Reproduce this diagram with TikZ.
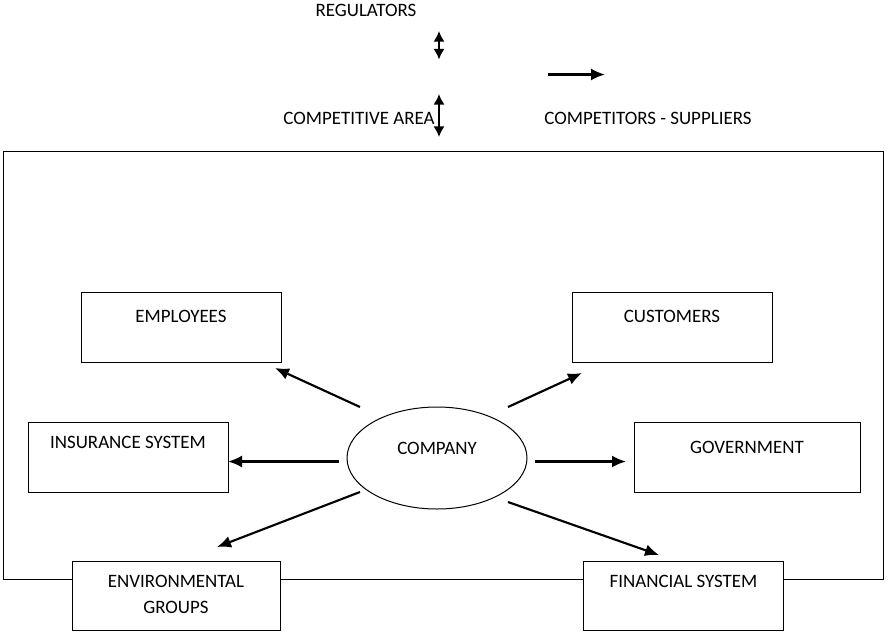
\documentclass[tikz,border=0pt]{standalone}
\usepackage{fontspec}
\setmainfont{Carlito}
\usetikzlibrary{arrows.meta,shapes.geometric}
\begin{document}
\begin{tikzpicture}[x=0.75pt,y=-0.75pt,
  txt/.style={font=\fontsize{14.2}{17}\selectfont, inner sep=0pt, anchor=base},
  box/.style={txt, draw, fill=white, line width=0.75pt, minimum width=150pt, minimum height=0pt},
  arr/.style={line width=1.6pt, -{Latex[length=10.5pt,width=9pt]}},
  darr/.style={line width=1.5pt, {Latex[length=8pt,width=8.5pt]}-{Latex[length=8pt,width=8.5pt]}},
  frame/.style={line width=0.75pt}]
\useasboundingbox (0,0) rectangle (889,636);
% frame
\draw[frame] (3.5,151) rectangle (883.5,579);
% top legend
\node[txt] (reg) at (366,16) {REGULATORS};
\node[txt] (comparea) at (359,124) {COMPETITIVE AREA};
\node[txt] (compsup) at (648,124) {COMPETITORS - SUPPLIERS};
\coordinate (d1a) at (439,31);
\coordinate (d1b) at (439,59.5);
\coordinate (d2a) at (439,94);
\coordinate (d2b) at (439,137);
\coordinate (r1a) at (548,74.5);
\coordinate (r1b) at (605,74.5);
\draw[darr] (d1a) -- (d1b);
\draw[darr] (d2a) -- (d2b);
\draw[arr] (r1a) -- (r1b);
% boxes
\node[box, text height=22.3pt, text depth=29.8pt] (emp) at (181,322.7) {EMPLOYEES};
\node[box, text height=22.3pt, text depth=29.8pt] (cust) at (672,322.7) {CUSTOMERS};
\node[box, text height=19pt, text depth=33.1pt] (ins) at (128,448) {INSURANCE SYSTEM};
\node[box, minimum width=169.5pt, text height=22.7pt, text depth=29.4pt] (gov) at (747,453) {GOVERNMENT};
\node[box, minimum width=156pt, text height=19.5pt, text depth=32.6pt] (env) at (176,587)
  {\begin{tabular}[t]{@{}c@{}}ENVIRONMENTAL\\[3pt]GROUPS\end{tabular}};
\node[box, text height=19.5pt, text depth=32.6pt] (fin) at (683.5,587) {FINANCIAL SYSTEM};
% company
\node[txt, draw, ellipse, line width=0.75pt, minimum width=135pt, minimum height=76.5pt,
  text height=10pt, text depth=16pt] (comp) at (437,454) {COMPANY};
% arrows
\coordinate (eT) at (360,407); \coordinate (eH) at (275,368);
\coordinate (cT) at (508,407); \coordinate (cH) at (582,373);
\coordinate (iT) at (339,461.5); \coordinate (iH) at (228,461.5);
\coordinate (gT) at (535,461.5); \coordinate (gH) at (626,461.5);
\coordinate (nT) at (360,492); \coordinate (nH) at (217,547);
\coordinate (fT) at (508,502); \coordinate (fH) at (659,555);
\draw[arr] (eT) -- (eH);
\draw[arr] (cT) -- (cH);
\draw[arr] (iT) -- (iH);
\draw[arr] (gT) -- (gH);
\draw[arr] (nT) -- (nH);
\draw[arr] (fT) -- (fH);
\end{tikzpicture}
\end{document}
